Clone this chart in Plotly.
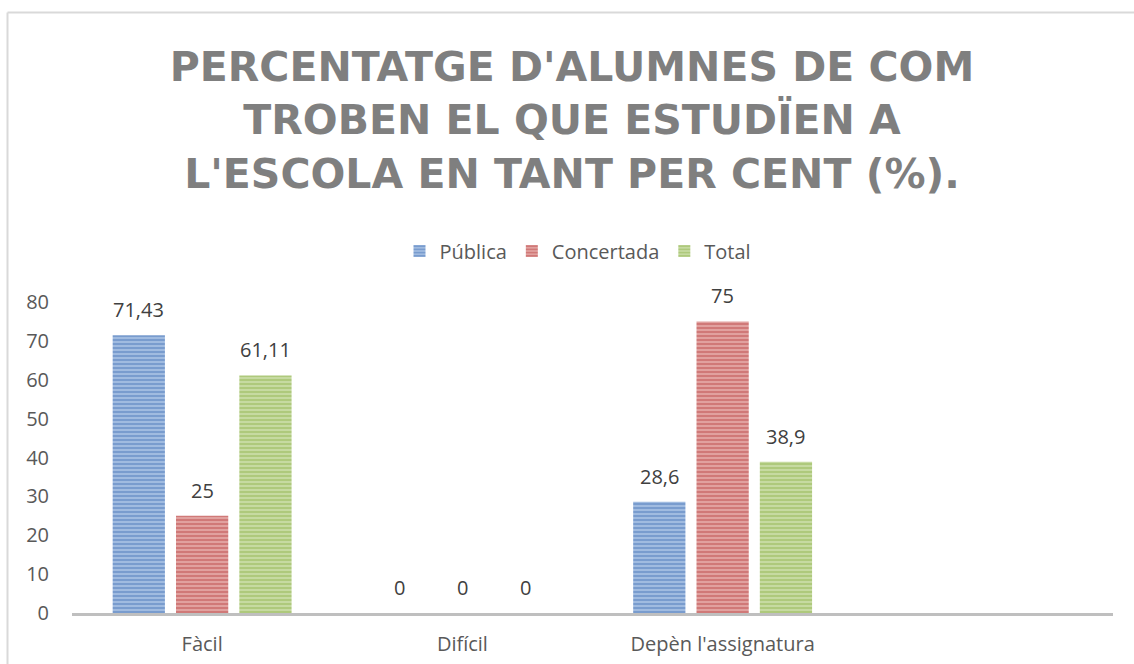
import plotly.graph_objects as go

categories = ["Fàcil", "Difícil", "Depèn l'assignatura"]
publica = [71.43, 0, 28.6]
concertada = [25, 0, 75]
total = [61.11, 0, 38.9]
series_names = ["Pública", "Concertada", "Total"]
y_ticks = [0, 10, 20, 30, 40, 50, 60, 70, 80]
title_text = "PERCENTATGE D'ALUMNES DE COM<br>TROBEN EL QUE ESTUDÏEN A<br>L'ESCOLA EN TANT PER CENT (%)."

fg = ["#3F70B4", "#B8403D", "#8CB046"]
bg = ["#B3C9E8", "#E8B3B2", "#D0E2B2"]

def fmt(v):
    return ("%g" % v).replace(".", ",")

W, H = 1134, 664
L, R = 72, 1113
T, B = 302, 613
BARGAP, GROUPGAP = 0.27, 0.175
n_slots = 4  # three categories plus one empty slot on the right

fig = go.Figure()
all_series = [publica, concertada, total]
for name, vals, f, b in zip(series_names, all_series, fg, bg):
    fig.add_trace(go.Bar(
        x=categories, y=vals, name=name,
        marker=dict(color=b, line=dict(width=0),
                    pattern=dict(shape="-", fgcolor=f, bgcolor=b, size=4, solidity=0.66, fillmode="overlay")),
    ))

# data labels, placed above each bar of the group
cat_px = (R - L) / n_slots
slot_px = cat_px * (1 - BARGAP) / len(all_series)
for i, vals in enumerate(all_series):
    for c, v in zip(categories, vals):
        fig.add_annotation(x=c, y=v, xref="x", yref="y", text=fmt(v), showarrow=False,
                           xshift=(i - 1) * slot_px, yanchor="bottom", yshift=10,
                           font=dict(size=20, color="#404040", family="Open Sans"))

fig.update_layout(
    width=W, height=H,
    margin=dict(l=L, r=W - R, t=T, b=H - B, pad=0),
    paper_bgcolor="white", plot_bgcolor="white",
    barmode="group", bargap=BARGAP, bargroupgap=GROUPGAP,
    font=dict(family="Open Sans", size=20, color="#595959"),
    title=dict(text="<b>" + title_text + "</b>", xref="container", x=572 / W, xanchor="center",
               yref="container", y=1 - 81 / H, yanchor="top", automargin=False,
               font=dict(family="DejaVu Sans", size=41, color="#7F7F7F")),
    legend=dict(orientation="h", xref="container", x=578 / W, xanchor="center",
                yref="container", y=1 - 251 / H, yanchor="middle",
                font=dict(size=20, color="#595959"), itemwidth=30,
                traceorder="normal"),
    showlegend=True,
)
fig.update_xaxes(range=[-0.5, n_slots - 0.5], showline=True, linecolor="#BFBFBF", linewidth=3,
                 showgrid=False, ticks="", ticklabelstandoff=11, automargin=False,
                 tickfont=dict(size=20, color="#595959"), fixedrange=True)
fig.update_yaxes(range=[0, 80], tickvals=y_ticks, showline=False, showgrid=False, zeroline=False,
                 ticks="", ticklabelstandoff=22, automargin=False,
                 tickfont=dict(size=20, color="#595959"), fixedrange=True)

# chart frame (left and top edges)
def px_x(p):
    return (p - L) / (R - L)
def px_y(p):
    return (B - p) / (B - T)
fig.add_shape(type="line", xref="paper", yref="paper", x0=px_x(7.5), x1=px_x(7.5), y0=px_y(12.5), y1=px_y(H + 5),
              line=dict(color="#D9D9D9", width=2))
fig.add_shape(type="line", xref="paper", yref="paper", x0=px_x(7.5), x1=px_x(W + 5), y0=px_y(12.5), y1=px_y(12.5),
              line=dict(color="#D9D9D9", width=2))

fig.write_html("out.html", config={"displayModeBar": False},
               post_script="document.body.style.margin='0';document.body.style.overflow='hidden';")
